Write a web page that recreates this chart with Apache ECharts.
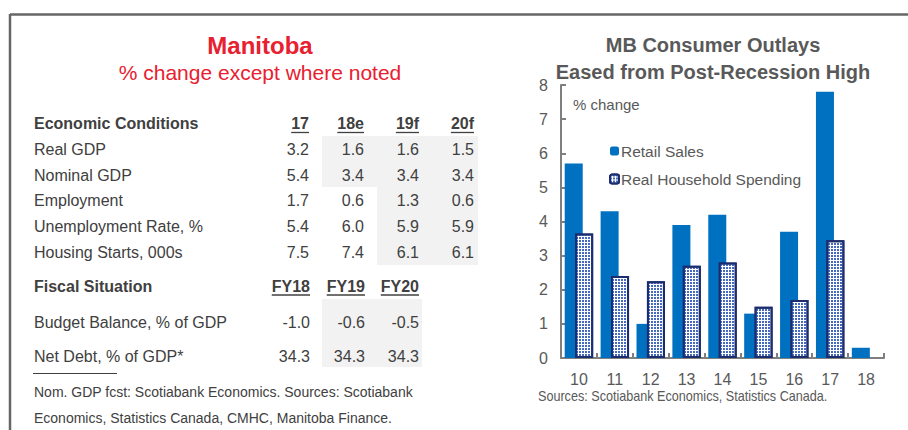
<!DOCTYPE html>
<html>
<head>
<meta charset="utf-8">
<script src="https://cdn.jsdelivr.net/npm/echarts@6/dist/echarts.min.js"></script>
<style>
  html, body { margin: 0; padding: 0; background: #fff; }
  #main { width: 908px; height: 430px; }
</style>
</head>
<body>
<div id="main"></div>
<script>
// ---- chart data (right panel) ----
const years = ['10', '11', '12', '13', '14', '15', '16', '17', '18'];
const retailSales = [5.7, 4.3, 1.0, 3.9, 4.2, 1.3, 3.7, 7.8, 0.3];
const householdSpending = [3.65, 2.4, 2.25, 2.7, 2.8, 1.5, 1.7, 3.45, null];

// ---- table data (left panel) ----
const econHeaders = ['17', '18e', '19f', '20f'];
const econLabels = ['Real GDP', 'Nominal GDP', 'Employment', 'Unemployment Rate, %', 'Housing Starts, 000s'];
const econValues = [
  ['3.2', '1.6', '1.6', '1.5'],
  ['5.4', '3.4', '3.4', '3.4'],
  ['1.7', '0.6', '1.3', '0.6'],
  ['5.4', '6.0', '5.9', '5.9'],
  ['7.5', '7.4', '6.1', '6.1'],
];
const fiscalHeaders = ['FY18', 'FY19', 'FY20'];
const fiscalLabels = ['Budget Balance, % of GDP', 'Net Debt, % of GDP*'];
const fiscalValues = [
  ['-1.0', '-0.6', '-0.5'],
  ['34.3', '34.3', '34.3'],
];
const footnotes = [
  'Nom. GDP fcst: Scotiabank Economics. Sources: Scotiabank',
  'Economics, Statistics Canada, CMHC, Manitoba Finance.',
];

const FONT = "'Liberation Sans', Arial, sans-serif";
const TXT = '#404040';
const RED = '#e8202f';
const GREY = '#595959';

// text width helper for the header underlines
const ctx = document.createElement('canvas').getContext('2d');
function textW(s, bold) {
  ctx.font = (bold ? 'bold ' : '') + '16px ' + FONT;
  return ctx.measureText(s).width;
}

function txt(x, y, s, opt) {
  opt = opt || {};
  return {
    type: 'text', x: x, y: y, silent: true,
    scaleX: opt.scaleX || 1,
    style: {
      text: s,
      fill: opt.fill || TXT,
      font: (opt.bold ? 'bold ' : '') + (opt.size || 16) + 'px ' + FONT,
      textAlign: opt.align || 'left',
      textVerticalAlign: 'middle',
    },
  };
}
function rect(x, y, w, h, fill) {
  return { type: 'rect', silent: true, shape: { x: x, y: y, width: w, height: h }, style: { fill: fill } };
}
function line(x1, y1, x2, y2, stroke, lw) {
  return { type: 'line', silent: true, shape: { x1: x1, y1: y1, x2: x2, y2: y2 }, style: { stroke: stroke, lineWidth: lw } };
}

// build left-side table
const g = [];
// frame
g.push(line(10, 14.5, 908, 14.5, '#666', 2.5));
g.push(line(10, 14, 10, 430, '#666', 2.5));

// shaded forecast cells
g.push(rect(322, 136, 156, 51, '#f2f2f2'));
g.push(rect(377, 187, 101, 78, '#f2f2f2'));
g.push(rect(322, 299, 100, 68, '#f2f2f2'));

g.push(txt(260, 45, 'Manitoba', { bold: true, size: 24, fill: RED, align: 'center' }));
g.push(txt(260, 72, '% change except where noted', { size: 21, fill: RED, align: 'center' }));

const econCols = [309, 364, 419, 474];
const econRowY = [149, 175, 200, 226, 252];
g.push(txt(34, 123, 'Economic Conditions', { bold: true }));
econHeaders.forEach(function (h, i) {
  g.push(txt(econCols[i], 123, h, { bold: true, align: 'right' }));
  g.push(line(econCols[i] - textW(h, true), 132.5, econCols[i], 132.5, TXT, 1.3));
});
econLabels.forEach(function (lab, r) {
  g.push(txt(34, econRowY[r], lab));
  econValues[r].forEach(function (v, c) {
    g.push(txt(econCols[c], econRowY[r], v, { align: 'right' }));
  });
});

const fisCols = [310, 365, 419];
const fisRowY = [322, 356];
g.push(txt(34, 286, 'Fiscal Situation', { bold: true }));
fiscalHeaders.forEach(function (h, i) {
  g.push(txt(fisCols[i], 286, h, { bold: true, align: 'right' }));
  g.push(line(fisCols[i] - textW(h, true), 295, fisCols[i], 295, TXT, 1.3));
});
fiscalLabels.forEach(function (lab, r) {
  g.push(txt(34, fisRowY[r], lab));
  fiscalValues[r].forEach(function (v, c) {
    g.push(txt(fisCols[c], fisRowY[r], v, { align: 'right' }));
  });
});
g.push(line(33, 373.5, 117, 373.5, TXT, 1));
footnotes.forEach(function (s, i) {
  g.push(txt(34, 392 + i * 25.5, s, { size: 14 }));
});

// right-side chart texts
g.push(txt(713, 45, 'MB Consumer Outlays', { bold: true, size: 20, fill: GREY, align: 'center' }));
g.push(txt(713, 72, 'Eased from Post-Recession High', { bold: true, size: 20, fill: GREY, align: 'center' }));
g.push(txt(573, 104, '% change', { size: 15, fill: GREY }));
// narrow source line, squeezed horizontally like the original
g.push(txt(538, 396, 'Sources: Scotiabank Economics, Statistics Canada.', { size: 14.5, fill: GREY, scaleX: 0.87 }));

const chart = echarts.init(document.getElementById('main'), null, { renderer: 'svg' });
chart.setOption({
  animation: false,
  textStyle: { fontFamily: FONT },
  grid: { left: 561, top: 85, width: 323, height: 273, containLabel: false },
  legend: {
    orient: 'vertical',
    left: 604,
    top: 138,
    itemWidth: 9,
    itemHeight: 9,
    itemGap: 12,
    selectedMode: false,
    textStyle: { color: GREY, fontSize: 15.5, fontFamily: FONT, padding: [0, 0, 0, -3] },
    data: ['Retail Sales', 'Real Household Spending'],
  },
  xAxis: {
    type: 'category',
    data: years,
    axisLine: { lineStyle: { color: '#7f7f7f', width: 2 } },
    axisTick: { show: true, inside: true, length: 5, interval: 0, lineStyle: { color: '#7f7f7f', width: 2 } },
    axisLabel: { color: GREY, fontSize: 16, margin: 13, interval: 0 },
  },
  yAxis: {
    type: 'value',
    min: 0,
    max: 8,
    interval: 1,
    splitLine: { show: false },
    axisLine: { show: true, lineStyle: { color: '#7f7f7f', width: 2 } },
    axisTick: { show: true, inside: true, length: 5, lineStyle: { color: '#7f7f7f', width: 2 } },
    axisLabel: { color: GREY, fontSize: 16, margin: 13 },
  },
  series: [
    {
      name: 'Retail Sales',
      type: 'bar',
      barWidth: 18,
      barGap: '-42%',
      itemStyle: { color: '#0070c0' },
      data: retailSales,
    },
    {
      name: 'Real Household Spending',
      type: 'bar',
      barWidth: 18,
      itemStyle: {
        color: '#ffffff',
        borderColor: '#1c2d6e',
        borderWidth: 2,
        decal: {
          symbol: 'rect',
          symbolSize: 1,
          color: '#4569bd',
          dashArrayX: [2, 1],
          dashArrayY: [2, 1],
          rotation: 0,
        },
      },
      data: householdSpending,
    },
  ],
  graphic: g,
});
</script>
</body>
</html>
